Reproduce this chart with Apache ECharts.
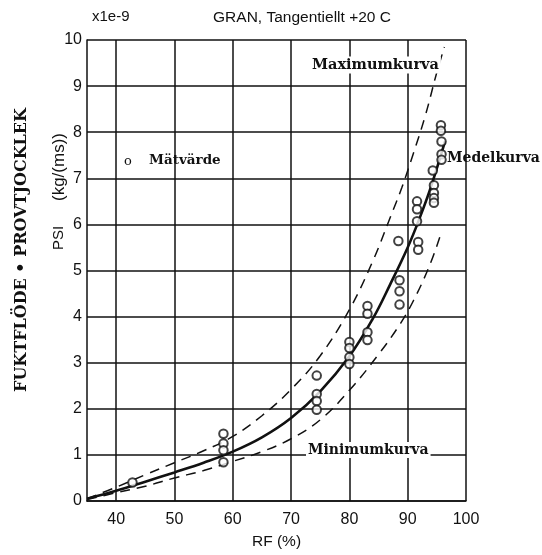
<!DOCTYPE html>
<html>
<head>
<meta charset="utf-8">
<script src="https://cdn.jsdelivr.net/npm/echarts@6/dist/echarts.min.js"></script>
<style>
  html, body { margin: 0; padding: 0; background: #fff; }
  #chart { width: 542px; height: 555px; }
</style>
</head>
<body>
<div id="chart"></div>
<script>
// Relative humidity tick values (%) for the x axis
const rfTicks = [40, 50, 60, 70, 80, 90, 100];

// Measured values: [RF %, PSI x1e-9 kg/(ms)]
const matvarden = [
  [42.8, 0.40],
  [58.4, 1.46], [58.4, 1.25], [58.4, 1.10], [58.4, 0.84],
  [74.4, 2.72], [74.4, 2.32], [74.4, 2.17], [74.4, 1.98],
  [80.0, 3.45], [80.0, 3.32], [80.0, 3.12], [80.0, 2.97],
  [83.1, 4.23], [83.1, 4.06], [83.1, 3.66], [83.1, 3.49],
  [88.4, 5.64], [88.6, 4.79], [88.6, 4.55], [88.6, 4.26],
  [91.6, 6.50], [91.6, 6.33], [91.6, 6.07], [91.8, 5.62], [91.8, 5.45],
  [94.3, 7.17], [94.5, 6.85], [94.5, 6.68], [94.5, 6.57], [94.5, 6.47],
  [95.7, 8.15], [95.7, 8.03], [95.8, 7.80], [95.8, 7.52], [95.8, 7.40]
];

// Mean curve
const medelkurva = [
  [35, 0.05], [40, 0.22], [45, 0.42], [50, 0.62], [55, 0.83], [60, 1.07],
  [65, 1.38], [70, 1.80], [75, 2.38], [80, 3.14], [84, 3.95], [87, 4.70],
  [90, 5.50], [92, 6.12], [94, 6.82], [96.4, 7.80]
];

// Upper envelope
const maximumkurva = [
  [35, 0.05], [40, 0.30], [45, 0.57], [50, 0.83], [55, 1.09], [60, 1.40],
  [65, 1.85], [70, 2.42], [75, 3.15], [80, 4.15], [84, 5.20], [87, 6.15],
  [89, 6.80], [91, 7.55], [93, 8.35], [95, 9.30], [96.3, 9.85]
];

// Lower envelope
const minimumkurva = [
  [35, 0.03], [40, 0.18], [45, 0.32], [50, 0.50], [55, 0.66], [60, 0.86],
  [65, 1.07], [70, 1.35], [75, 1.76], [80, 2.40], [85, 3.18], [88.8, 3.86],
  [91, 4.35], [93.6, 5.06], [95.5, 5.72]
];

const sans = 'Liberation Sans, Arial, sans-serif';
const serif = 'DejaVu Serif, serif';
const ink = '#111';

const chart = echarts.init(document.getElementById('chart'), null, { renderer: 'canvas' });

const gridLine = { show: true, lineStyle: { color: ink, width: 1.5 } };

chart.setOption({
  backgroundColor: '#fff',
  animation: false,
  grid: { left: 87, right: 76, top: 40, bottom: 43, containLabel: false },
  xAxis: {
    type: 'value',
    min: 35,
    max: 100,
    axisLine: { show: true, lineStyle: { color: ink, width: 1.5 } },
    axisTick: { show: false, customValues: rfTicks },
    axisLabel: {
      customValues: rfTicks,
      color: ink, fontFamily: sans, fontSize: 16, margin: 11
    },
    splitLine: gridLine,
    name: 'RF (%)',
    nameLocation: 'middle',
    nameGap: 33,
    nameTextStyle: { color: ink, fontFamily: sans, fontSize: 15.5 }
  },
  yAxis: {
    type: 'value',
    min: 0,
    max: 10,
    interval: 1,
    axisLine: { show: true, lineStyle: { color: ink, width: 1.5 } },
    axisTick: { show: false },
    axisLabel: { color: ink, fontFamily: sans, fontSize: 16, margin: 5 },
    splitLine: gridLine
  },
  graphic: [
    { type: 'text', x: 92, y: 17, style: { text: 'x1e-9', font: '15px ' + sans, fill: ink, verticalAlign: 'middle' } },
    { type: 'text', x: 302, y: 18, style: { text: 'GRAN, Tangentiellt +20 C', font: '15.5px ' + sans, fill: ink, align: 'center', verticalAlign: 'middle' } },
    { type: 'text', x: 59, y: 238, rotation: Math.PI / 2, style: { text: 'PSI', font: '15px ' + sans, fill: ink, align: 'center', verticalAlign: 'middle' } },
    { type: 'text', x: 59, y: 167, rotation: Math.PI / 2, style: { text: '(kg/(ms))', font: '17px ' + sans, fill: ink, align: 'center', verticalAlign: 'middle' } },
    { type: 'text', x: 22, y: 250, rotation: Math.PI / 2, style: { text: 'FUKTFLÖDE • PROVTJOCKLEK', font: 'bold 16px ' + serif, fill: ink, align: 'center', verticalAlign: 'middle' } },
    { type: 'text', x: 310, y: 65, z: 10, style: { text: 'Maximumkurva', font: 'bold 14.5px ' + serif, fill: ink, verticalAlign: 'middle', backgroundColor: '#fff', padding: [1, 2] } },
    { type: 'text', x: 306, y: 450, z: 10, style: { text: 'Minimumkurva', font: 'bold 14px ' + serif, fill: ink, verticalAlign: 'middle', backgroundColor: '#fff', padding: [1, 2] } },
    { type: 'text', x: 447, y: 158, z: 10, style: { text: 'Medelkurva', font: 'bold 14px ' + serif, fill: ink, verticalAlign: 'middle' } },
    { type: 'text', x: 124, y: 162, z: 10, style: { text: 'o', font: '13px ' + serif, fill: ink, verticalAlign: 'middle' } },
    { type: 'text', x: 149, y: 160, z: 10, style: { text: 'Mätvärde', font: 'bold 13.5px ' + serif, fill: ink, verticalAlign: 'middle' } }
  ],
  series: [
    {
      name: 'Maximumkurva', type: 'line', data: maximumkurva,
      smooth: 0.4, showSymbol: false, silent: true,
      lineStyle: { color: ink, width: 1.5, type: [10, 7] }
    },
    {
      name: 'Minimumkurva', type: 'line', data: minimumkurva,
      smooth: 0.4, showSymbol: false, silent: true,
      lineStyle: { color: ink, width: 1.5, type: [10, 7] }
    },
    {
      name: 'Medelkurva', type: 'line', data: medelkurva,
      smooth: 0.4, showSymbol: false, silent: true,
      lineStyle: { color: ink, width: 2.6 }
    },
    {
      name: 'Mätvärde', type: 'scatter', data: matvarden,
      symbol: 'emptyCircle', symbolSize: 8.5, silent: true, z: 5,
      itemStyle: { color: ink, borderColor: ink, borderWidth: 1.2 }
    }
  ]
});
</script>
</body>
</html>
